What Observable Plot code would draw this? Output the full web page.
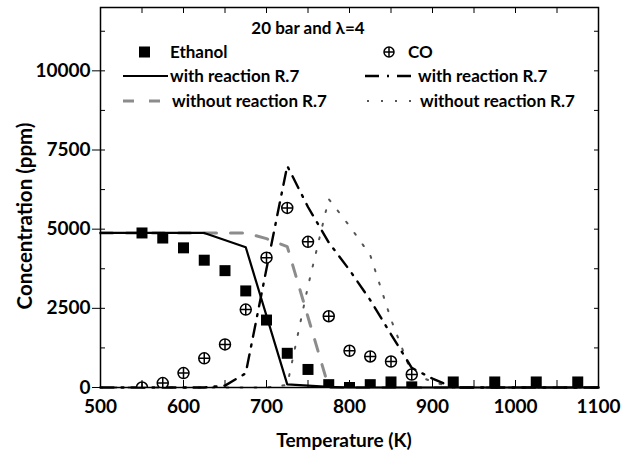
<!DOCTYPE html>
<html><head><meta charset="utf-8">
<script src="https://cdn.jsdelivr.net/npm/d3@7"></script>
<script src="https://cdn.jsdelivr.net/npm/@observablehq/plot@0.6"></script>
<style>
body{margin:0;background:#fff;}
#wrap{position:relative;width:625px;height:457px;}
#legend{position:absolute;left:0;top:0;pointer-events:none;}
</style></head><body><div id="wrap"></div>
<script>
// ---- experimental points ----
const expTemps   = [550, 575, 600, 625, 650, 675, 700, 725, 750, 775, 800, 825, 850, 875, 925, 975, 1025, 1075];
const ethanolExp = [4880, 4720, 4410, 4020, 3690, 3050, 2130, 1080, 570, 90, 0, 90, 175, 20, 175, 175, 175, 175];
const coTemps    = [550, 575, 600, 625, 650, 675, 700, 725, 750, 775, 800, 825, 850, 875];
const coExp      = [0, 140, 455, 920, 1360, 2460, 4100, 5670, 4600, 2250, 1160, 980, 820, 410];

// ---- model curves ----
const ethWithT    = [500, 625, 675, 725, 775, 800, 1100];
const ethWithV    = [4880, 4880, 4430, 100, 20, 0, 0];
const ethWithoutT = [500, 675, 700, 725, 775, 1100];
const ethWithoutV = [4880, 4880, 4700, 4450, 0, 0];
const coWithT     = [500, 625, 650, 675, 700, 725, 750, 775, 800, 825, 850, 875, 900, 925, 1100];
const coWithV     = [0, 0, 60, 450, 3750, 7000, 5700, 4580, 3710, 2760, 1680, 620, 280, 0, 0];
const coWithoutT  = [500, 700, 725, 750, 775, 800, 825, 850, 875, 900, 925, 1100];
const coWithoutV  = [0, 0, 80, 3200, 5950, 5100, 4180, 2150, 450, 180, 0, 0];

// ---- axes / text ----
const xTicks = [500, 600, 700, 800, 900, 1000, 1100];
const yTicks = [0, 2500, 5000, 7500, 10000];
const xLabel = "Temperature (K)";
const yLabel = "Concentration (ppm)";
const legendTitle = "20 bar and λ=4";
const legendLabels = ["Ethanol", "CO", "with reaction R.7", "with reaction R.7", "without reaction R.7", "without reaction R.7"];

const toRows = (T, V) => T.map((t, i) => ({t, v: V[i]}));
const ethPts = toRows(expTemps, ethanolExp);
const coPts = toRows(coTemps, coExp);

const FONT = "Lato, 'Open Sans', sans-serif";
const GREY = "#8c8c8c", DOTC = "#555";
const styles = {
  solid: {stroke: "black", strokeWidth: 2.2},
  dashdot: {stroke: "black", strokeWidth: 2.4, strokeDasharray: "13,8,2,8"},
  dashed: {stroke: GREY, strokeWidth: 3, strokeDasharray: "12,14"},
  dotted: {stroke: DOTC, strokeWidth: 2, strokeDasharray: "2,12"}
};

const chart = Plot.plot({
  width: 625, height: 457,
  marginLeft: 100, marginRight: 27, marginTop: 7, marginBottom: 70,
  style: {fontFamily: FONT, fontWeight: "bold", fontSize: "19px", color: "black", background: "white"},
  x: {domain: [500, 1100]},
  y: {domain: [0, 12000]},
  marks: [
    Plot.line(toRows(ethWithoutT, ethWithoutV), {x: "t", y: "v", ...styles.dashed}),
    Plot.line(toRows(coWithoutT, coWithoutV), {x: "t", y: "v", ...styles.dotted}),
    Plot.line(toRows(ethWithT, ethWithV), {x: "t", y: "v", ...styles.solid}),
    Plot.line(toRows(coWithT, coWithV), {x: "t", y: "v", ...styles.dashdot}),
    Plot.dot(ethPts, {x: "t", y: "v", symbol: "square", fill: "black", r: 6.2, clip: true}),
    Plot.dot(coPts, {x: "t", y: "v", symbol: "circle", fill: "white", stroke: "black", strokeWidth: 1.5, r: 5.5, clip: true}),
    Plot.dot(coPts, {x: "t", y: "v", symbol: "plus", stroke: "black", strokeWidth: 1.5, r: 3.6, clip: true}),
    Plot.axisX({ticks: xTicks, tickSize: 0, tickPadding: 12, tickFormat: d => String(d), label: null}),
    Plot.axisX({ticks: d3.range(500, 1101, 50), tickSize: -7, tickFormat: () => "", label: null}),
    Plot.axisX({anchor: "top", ticks: d3.range(500, 1101, 50), tickSize: -5, tickFormat: () => "", label: null}),
    Plot.axisY({ticks: yTicks, tickSize: 8, tickPadding: 2, tickFormat: d => String(d), label: null}),
    Plot.axisY({ticks: d3.range(0, 12001, 1250), tickSize: -5, tickFormat: () => "", label: null}),
    Plot.axisY({anchor: "right", ticks: d3.range(0, 12001, 1250), tickSize: -5, tickFormat: () => "", label: null}),
    Plot.frame({stroke: "black", strokeWidth: 1.5})
  ]
});
const wrap = document.getElementById("wrap");
wrap.appendChild(chart);

// ---- overlay: axis titles + legend ----
const lg = d3.select(wrap).append("svg").attr("id", "legend")
  .attr("width", 625).attr("height", 457)
  .style("font-family", FONT).style("font-weight", "bold");
lg.append("text").attr("x", 344).attr("y", 440).attr("text-anchor", "middle").attr("dy", "0.35em")
  .style("font-size", "19px").text(xLabel);
lg.append("text").attr("transform", "translate(25,216) rotate(-90)").attr("text-anchor", "middle").attr("dy", "0.35em")
  .style("font-size", "20.5px").text(yLabel);

const L = lg.append("g").style("font-size", "17px");
L.append("text").attr("x", 308).attr("y", 28).attr("text-anchor", "middle").attr("dy", "0.35em").text(legendTitle);
const rows = [52, 76, 101];
// row 1: symbols
L.append("rect").attr("x", 139).attr("y", rows[0] - 5.5).attr("width", 11).attr("height", 11).attr("fill", "black");
L.append("text").attr("x", 170).attr("y", rows[0]).attr("dy", "0.35em").text(legendLabels[0]);
L.append("circle").attr("cx", 389).attr("cy", rows[0]).attr("r", 5).attr("fill", "white").attr("stroke", "black").attr("stroke-width", 1.5);
L.append("path").attr("d", `M384,${rows[0]}H394M389,${rows[0] - 5}V${rows[0] + 5}`).attr("stroke", "black").attr("stroke-width", 1.5);
L.append("text").attr("x", 408).attr("y", rows[0]).attr("dy", "0.35em").text(legendLabels[1]);
// rows 2-3: line swatches
const sw = [
  {x1: 123, x2: 168, y: rows[1], s: styles.solid, tx: 170, label: legendLabels[2]},
  {x1: 365, x2: 417, y: rows[1], s: {...styles.dashdot, strokeDasharray: "14,8,2,8"}, tx: 418, label: legendLabels[3]},
  {x1: 123, x2: 168, y: rows[2], s: {...styles.dashed, strokeDasharray: "11,15"}, tx: 172, label: legendLabels[4]},
  {x1: 367, x2: 417, y: rows[2], s: styles.dotted, tx: 420, label: legendLabels[5]}
];
for (const d of sw) {
  L.append("line").attr("x1", d.x1).attr("x2", d.x2).attr("y1", d.y).attr("y2", d.y)
    .attr("stroke", d.s.stroke).attr("stroke-width", d.s.strokeWidth)
    .attr("stroke-dasharray", d.s.strokeDasharray || null);
  L.append("text").attr("x", d.tx).attr("y", d.y).attr("dy", "0.35em").text(d.label);
}
</script></body></html>
